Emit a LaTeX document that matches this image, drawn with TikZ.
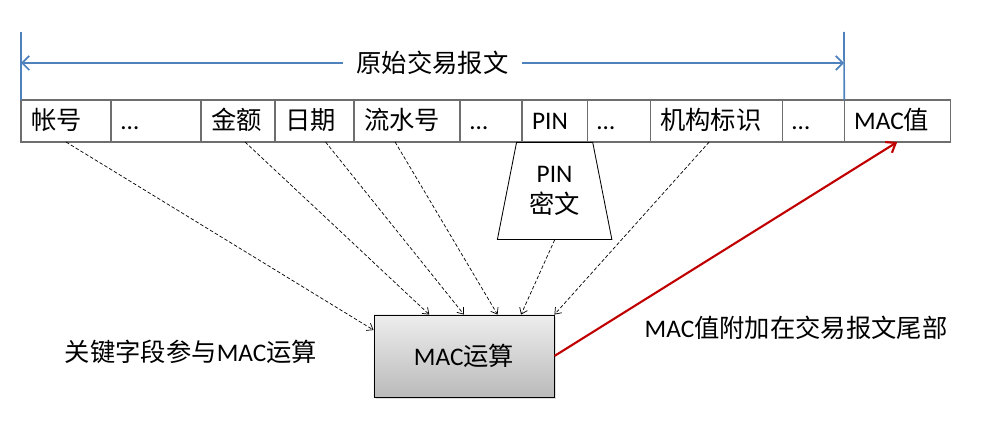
\documentclass[tikz,border=0pt]{standalone}
\usepackage{fontspec}
\setmainfont{Carlito}
\newfontfamily\zhfont{Noto Sans CJK SC}
\usepackage{tikz}
\usetikzlibrary{shapes.geometric, arrows.meta, positioning, shadows}
\definecolor{msblue}{RGB}{79,129,189}
\definecolor{msred}{RGB}{192,0,0}
\definecolor{cellgray}{RGB}{110,110,110}

\begin{document}
\begin{tikzpicture}[x=0.025cm, y=-0.025cm,
  font=\fontsize{18}{22}\selectfont,
  fld/.style={draw=cellgray, line width=0.9pt, outer sep=0pt, inner ysep=0pt,
              inner xsep=0.25cm, text width=#1, align=left, text height=0.73cm, text depth=0.32cm},
  pinblock/.style={draw, line width=0.6pt, trapezium, trapezium angle=75.5, trapezium stretches=true,
                   minimum width=2.875cm, minimum height=2.425cm, align=center, inner sep=0pt},
  macbox/.style={draw, line width=0.6pt, minimum width=4.5cm, minimum height=2.05cm,
                 top color=black!7, bottom color=black!27,
                 drop shadow={shadow xshift=1.5pt, shadow yshift=-1.5pt, opacity=0.25}},
  note/.style={inner sep=0pt},
  wall/.style={msblue, line width=1.2pt},
  feed/.style={draw, dash pattern=on 2.5pt off 1.5pt, line width=0.5pt, -{Straight Barb[length=4pt,width=6pt]}},
  retarr/.style={msred, line width=1.5pt, -{Straight Barb[length=6pt,width=9pt]}},
]
\useasboundingbox (0,0) rectangle (989,427);

% message fields
\node[fld=1.75cm, anchor=north west] (acct) at (21,100) {\zhfont 帐号};
\node[fld=1.75cm, right=0pt of acct]    (dotsA)  {…};
\node[fld=1.35cm, right=0pt of dotsA]   (amount) {\zhfont 金额};
\node[fld=1.475cm, right=0pt of amount] (date)   {\zhfont 日期};
\node[fld=2.15cm, right=0pt of date]    (serial) {\zhfont 流水号};
\node[fld=1.05cm, right=0pt of serial]  (dotsB)  {…};
\node[fld=1.125cm, right=0pt of dotsB]  (pin)    {PIN};
\node[fld=1.075cm, right=0pt of pin]    (dotsC)  {…};
\node[fld=2.8cm, right=0pt of dotsC]    (inst)   {\zhfont 机构标识};
\node[fld=1.05cm, right=0pt of inst]    (dotsD)  {…};
\node[fld=2.15cm, right=0pt of dotsD]   (macval) {MAC{\zhfont 值}};

% span of the original message
\coordinate (ltop) at (21,32);
\coordinate (rtop) at (844,32);
\coordinate (larr) at (21,63);
\coordinate (rarr) at (844,63);
\draw[wall] (acct.north west) -- (ltop);
\draw[wall] (macval.north west) -- (rtop);
\draw[wall, {Straight Barb[length=5pt,width=10pt]}-{Straight Barb[length=5pt,width=10pt]}]
  (larr) -- node[fill=white, text=black, inner xsep=0.33cm, inner ysep=0pt] (msg) {\zhfont 原始交易报文} (rarr);

% PIN block and MAC calculation
\node[pinblock, below=0pt of pin] (pinc) {PIN\\{\zhfont 密文}};
\node[macbox] (mac) at (464,356) {MAC{\zhfont 运算}};

\draw[feed] (acct.south) -- (mac.164);
\draw[feed] ([xshift=0.175cm]amount.south) -- (mac.130);
\draw[feed] ([xshift=0.275cm]date.south) -- (mac.90);
\draw[feed] ([xshift=-0.3cm]serial.south) -- (mac.51);
\draw[feed] (pinc.south) -- (mac.36);
\draw[feed] ([xshift=-0.175cm]inst.south) -- (mac.north east);
\draw[retarr] (mac.east) -- (macval.south);

\node[note] (keyl) at (191,352) {{\zhfont 关键字段参与}MAC{\zhfont 运算}};
\node[note] (appl) at (796,328) {MAC{\zhfont 值附加在交易报文尾部}};
\end{tikzpicture}
\end{document}
